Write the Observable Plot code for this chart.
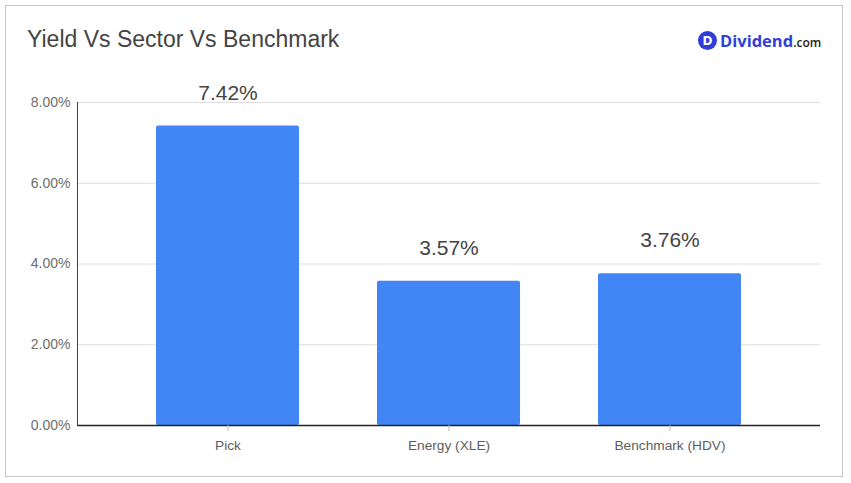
<!DOCTYPE html>
<html>
<head>
<meta charset="utf-8">
<script src="https://cdn.jsdelivr.net/npm/d3@7"></script>
<script src="https://cdn.jsdelivr.net/npm/@observablehq/plot@0.6"></script>
<style>
  body { margin: 0; background: #fff; font-family: "Liberation Sans", Arial, sans-serif; }
  #wrap { position: relative; width: 851px; height: 483px; overflow: hidden; }
  #border { position: absolute; left: 5px; top: 5px; width: 836px; height: 470px; border: 1px solid #c8c8c8; box-sizing: content-box; }
  #title { position: absolute; left: 27px; top: 26px; font-size: 23px; color: #444; white-space: nowrap; }
  #logo { position: absolute; left: 698px; top: 29px; display: flex; align-items: center; white-space: nowrap; }
  #logo .dot { width: 19px; height: 19px; border-radius: 50%; background: #2f3ed8; color: #fff; font-weight: bold; font-size: 12px; font-family: "DejaVu Sans", sans-serif; display: flex; align-items: center; justify-content: center; margin-right: 3px; }
  #logo .name { font-family: "Open Sans", "DejaVu Sans", sans-serif; font-weight: 700; font-size: 16.5px; color: #2f3ed8; }
  #logo .com { font-family: "Open Sans", "DejaVu Sans", sans-serif; font-weight: 600; font-size: 12px; color: #222; margin-top: 3px; }
  #chart { position: absolute; left: 0; top: 0; }
</style>
</head>
<body>
<div id="wrap">
  <div id="border"></div>
  <div id="chart"></div>
  <div id="title">Yield Vs Sector Vs Benchmark</div>
  <div id="logo"><div class="dot">D</div><span class="name">Dividend</span><span class="com">.com</span></div>
</div>
<script>
const categories = ["Pick", "Energy (XLE)", "Benchmark (HDV)"];
const yields = [0.0742, 0.0357, 0.0376];
const yTicks = [0, 0.02, 0.04, 0.06, 0.08];

const data = categories.map((c, i) => ({category: c, value: yields[i]}));
const pct = d3.format(".2%");

const chart = Plot.plot({
  width: 851,
  height: 483,
  marginTop: 102,
  marginBottom: 58,
  marginLeft: 77,
  marginRight: 31,
  style: { fontFamily: "'Liberation Sans', Arial, sans-serif", background: "transparent" },
  x: { domain: categories, padding: 0.354, label: null },
  y: { domain: [0, 0.08], label: null },
  marks: [
    Plot.ruleY(yTicks.filter(d => d > 0), { stroke: "#dedede", strokeWidth: 1 }),
    Plot.barY(data, { x: "category", y: "value", fill: "#4285f4", rx: 2 }),
    Plot.ruleY([0], { stroke: "#222", strokeWidth: 1.3 }),
    Plot.frame({ anchor: "left", stroke: "#444" }),
    Plot.axisY({ ticks: yTicks, tickFormat: d3.format(".2%"), tickSize: 0, tickPadding: 7, fontSize: 14, fill: "#6e6e6e" }),
    Plot.axisX({ tickSize: 6, tickPadding: 9, fontSize: 13.7, fill: "#5e5e5e", stroke: "#bbb" }),
    Plot.text(data, { x: "category", y: "value", text: d => pct(d.value), dy: -33, fontSize: 21, fill: "#444" })
  ]
});
document.getElementById("chart").appendChild(chart);
</script>
</body>
</html>
